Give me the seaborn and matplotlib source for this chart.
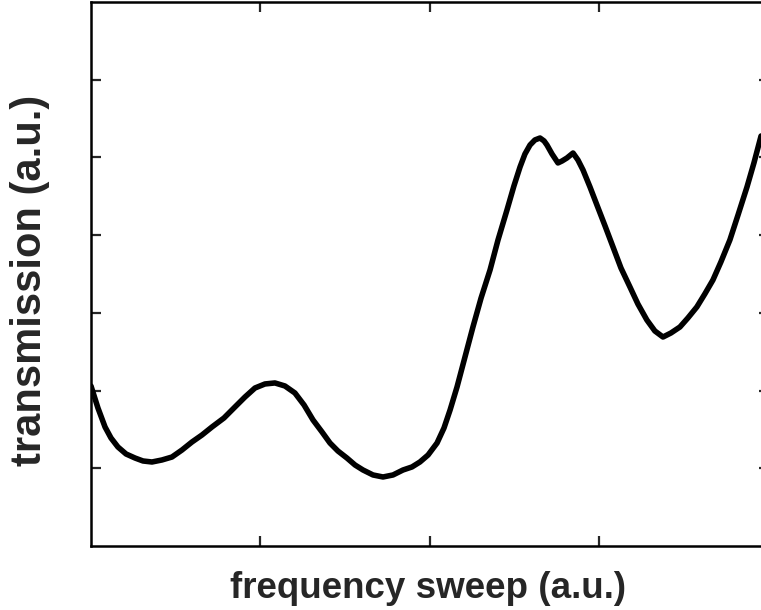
import numpy as np
import pandas as pd
import seaborn as sns
import matplotlib
matplotlib.use("Agg")
import matplotlib.pyplot as plt

sweep = [0.000, 0.041, 0.083, 0.118, 0.159, 0.207, 0.260, 0.307, 0.360, 0.419,
         0.478, 0.537, 0.596, 0.655, 0.714, 0.785, 0.850, 0.909, 0.968, 1.027,
         1.086, 1.145, 1.204, 1.258, 1.311, 1.364, 1.411, 1.458, 1.511, 1.559,
         1.606, 1.665, 1.724, 1.783, 1.842, 1.895, 1.942, 1.990, 2.043, 2.084,
         2.120, 2.161, 2.208, 2.255, 2.303, 2.356, 2.403, 2.456, 2.497, 2.533,
         2.562, 2.592, 2.621, 2.651, 2.675, 2.692, 2.722, 2.757, 2.781, 2.810,
         2.846, 2.875, 2.905, 2.946, 2.987, 3.035, 3.082, 3.129, 3.182, 3.229,
         3.282, 3.329, 3.377, 3.424, 3.477, 3.524, 3.577, 3.624, 3.672, 3.719,
         3.772, 3.820, 3.873, 3.914, 3.956]
transmission = [2.059, 1.776, 1.531, 1.390, 1.274, 1.184, 1.132, 1.094, 1.081, 1.107,
                1.145, 1.235, 1.338, 1.428, 1.531, 1.647, 1.789, 1.917, 2.033, 2.085,
                2.098, 2.059, 1.969, 1.814, 1.621, 1.467, 1.325, 1.222, 1.132, 1.042,
                0.978, 0.914, 0.888, 0.914, 0.978, 1.017, 1.081, 1.171, 1.325, 1.518,
                1.750, 2.046, 2.432, 2.818, 3.191, 3.552, 3.938, 4.324, 4.633, 4.877,
                5.044, 5.160, 5.225, 5.250, 5.212, 5.160, 5.044, 4.929, 4.954, 4.993,
                5.057, 4.967, 4.838, 4.620, 4.388, 4.118, 3.848, 3.577, 3.333, 3.114,
                2.908, 2.767, 2.689, 2.741, 2.818, 2.934, 3.076, 3.243, 3.423, 3.655,
                3.938, 4.259, 4.620, 4.929, 5.276]

x_ticks = [1, 2, 3]
y_ticks = [1, 2, 3, 4, 5, 6]

df = pd.DataFrame({"sweep": sweep, "transmission": transmission})

sns.set_theme(style="ticks")
plt.rcParams['font.family'] = ['Liberation Sans', 'DejaVu Sans']

fig = plt.figure(figsize=(7.61, 6.10), dpi=100)
ax = fig.add_axes([91/761, 1 - 546/610, (768.5 - 91)/761, (546 - 2)/610])

sns.lineplot(data=df, x="sweep", y="transmission", ax=ax, color="black",
             linewidth=4.0, estimator=None, sort=False,
             solid_joinstyle="round", solid_capstyle="round")

ax.set_xlim(0, 4)
ax.set_ylim(0, 7)
ax.set_xticks(x_ticks)
ax.set_yticks(y_ticks)
ax.tick_params(direction="in", length=7, width=1.6, top=True, right=True,
               labelbottom=False, labelleft=False)
for s in ax.spines.values():
    s.set_linewidth(1.8)
    s.set_color("black")
    s.set_visible(True)

ax.set_xlabel("frequency sweep (a.u.)", fontsize=26.5, fontweight="bold")
ax.set_ylabel("transmission (a.u.)", fontsize=30, fontweight="bold")
ax.xaxis.label.set_va("center")
ax.yaxis.label.set_va("center")
ax.xaxis.set_label_coords((428.5 - 91) / 677.5, (546 - 589) / 544)
ax.yaxis.set_label_coords((30 - 91) / 677.5, (546 - 280) / 544)

fig.savefig("out.png", dpi=100)
